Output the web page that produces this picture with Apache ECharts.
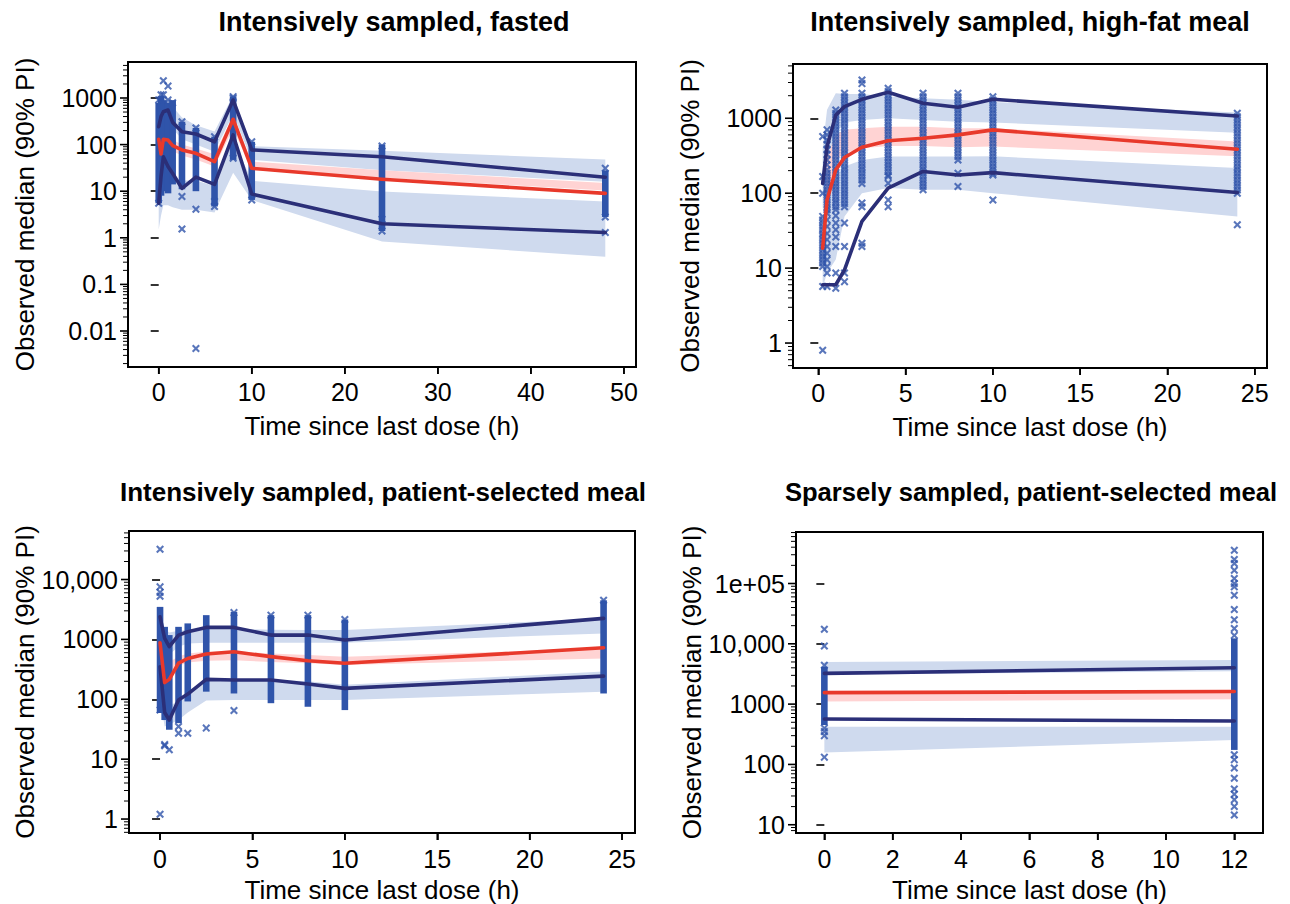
<!DOCTYPE html>
<html><head><meta charset="utf-8">
<script src="https://cdn.jsdelivr.net/npm/echarts@6/dist/echarts.min.js"></script>
<style>html,body{margin:0;padding:0;background:#fff}#c{width:1290px;height:904px}</style>
</head><body><div id="c"></div>
<script>
// ================= DATA =================
// Panel 1: Intensively sampled, fasted
const p1Time   = [0, 0.25, 0.5, 1, 1.5, 2.5, 4, 6, 8, 10, 24, 48];
const p1Upper  = [242, 400, 508, 552, 300, 189, 169, 115, 905, 77, 55, 20];
const p1Median = [130, 63, 130, 125, 95, 77, 65, 43, 350, 31, 18, 9];
const p1Lower  = [5.5, 21, 55, 34, 24, 11.5, 20, 14, 161, 8.7, 2.0, 1.3];
const p1UpLo   = [150, 250, 330, 330, 220, 130, 100, 70, 450, 47, 28, 16];
const p1UpHi   = [550, 900, 1100, 1000, 650, 380, 260, 190, 1150, 93, 74, 48];
const p1MedLo  = [80, 70, 95, 90, 72, 58, 48, 34, 220, 28.5, 19.5, 10.3];
const p1MedHi  = [160, 150, 170, 155, 125, 100, 82, 62, 420, 43, 28, 15];
const p1LowLo  = [1.5, 3, 5, 5, 4.5, 4, 4, 3.5, 25, 6.5, 0.83, 0.39];
const p1LowHi  = [9, 18, 30, 25, 20, 17, 17, 13, 130, 16.8, 9.8, 6];
const p1Cols   = [[0, 5.5, 780], [0.25, 8, 1100], [0.5, 10, 900], [1, 9, 800], [1.5, 14, 900], [2.5, 11, 310], [4, 10, 227], [6, 4.7, 148], [8, 47, 1070], [10, 6.5, 115], [24, 1.4, 100], [48, 2.8, 28]];
const p1Pts    = [[0, 910], [0, 5.5], [0.25, 1170], [0.5, 2350], [0.5, 1170], [1, 1800], [1, 910], [1.5, 790], [2.5, 310], [2.5, 7.7], [2.5, 1.55], [4, 227], [4, 4.1], [4, 0.0042], [6, 148], [6, 6.0], [6, 4.7], [8, 1070], [8, 985], [8, 51], [10, 115], [10, 6.5], [24, 93], [24, 2.5], [24, 1.4], [48, 31], [48, 2.8], [48, 1.3]];
const p1XTicks = [0, 10, 20, 30, 40, 50];
const p1YTicks = [0.01, 0.1, 1, 10, 100, 1000];
const p1YLabels = ['0.01', '0.1', '1', '10', '100', '1000'];

// Panel 2: Intensively sampled, high-fat meal
const p2Time   = [0.25, 0.5, 1, 1.5, 2.5, 4, 6, 8, 10, 24];
const p2Upper  = [135, 420, 1100, 1430, 1790, 2220, 1585, 1400, 1790, 1070];
const p2Median = [18.5, 81, 205, 300, 410, 500, 540, 600, 700, 386];
const p2Lower  = [6.0, 6.0, 6.0, 9.5, 42, 117, 195, 175, 188, 102];
const p2UpLo   = [60, 220, 630, 880, 950, 1000, 950, 900, 880, 640];
const p2UpHi   = [400, 1300, 2150, 2100, 2100, 1950, 1850, 1760, 1650, 1190];
const p2MedLo  = [12, 81, 278, 341, 398, 427, 427, 410, 420, 310];
const p2MedHi  = [40, 310, 600, 700, 735, 773, 773, 735, 735, 490];
const p2LowLo  = [5.5, 8.6, 13, 49, 100, 117, 111, 111, 100, 49];
const p2LowHi  = [24, 100, 167, 227, 278, 308, 308, 308, 310, 216];
const p2Cols   = [];
const p2ObsTimes  = [0.25, 0.5, 1, 1.5, 2.5, 4, 6, 8, 10, 24];
const p2ObsValues = [
  [570, 167, 100, 49, 44, 40, 36, 32.5, 29, 26.5, 24, 21.5, 19.4, 17.5, 15.8, 14.3, 12.9, 11.7, 10.5, 5.7, 0.8],
  [700, 600, 514, 450, 378, 330, 278, 240, 205, 185, 167, 150, 136, 123, 110, 100, 90, 81, 73, 66, 60, 54, 44, 36, 29, 24, 19.4, 15.8, 12.9, 10.5, 8.6, 5.7],
  [1290, 1160, 1050, 950, 858, 775, 700, 630, 570, 515, 465, 420, 378, 340, 308, 278, 250, 226, 205, 185, 167, 150, 136, 123, 110, 100, 90, 81, 74, 66, 60, 50, 40, 32.5, 26, 19.4, 8.6, 5.4],
  [2150, 1940, 1750, 1580, 1430, 1290, 1165, 1050, 950, 858, 773, 700, 630, 570, 514, 465, 418, 378, 341, 308, 278, 250, 226, 205, 185, 167, 150, 136, 123, 110, 100, 90, 81, 73, 66, 40, 19.4, 8.6, 6.6],
  [3240, 2900, 2150, 1940, 1750, 1580, 1430, 1290, 1165, 1050, 950, 858, 773, 700, 630, 570, 514, 465, 418, 378, 341, 308, 278, 250, 226, 205, 185, 167, 150, 135, 74, 66, 21.5, 19.4],
  [2520, 2270, 2050, 1850, 1670, 1510, 1360, 1230, 1110, 1000, 900, 815, 735, 665, 600, 540, 488, 440, 397, 358, 323, 292, 263, 238, 215, 194, 175, 167, 136, 81, 66],
  [2150, 1940, 1750, 1580, 1430, 1290, 1165, 1050, 950, 858, 773, 700, 630, 570, 514, 465, 418, 378, 341, 308, 278, 250, 226, 205, 185, 167, 150, 136, 123, 111],
  [2150, 1940, 1750, 1580, 1430, 1290, 1165, 1050, 950, 858, 773, 700, 630, 570, 514, 465, 418, 378, 341, 308, 278, 185, 123],
  [1940, 1750, 1585, 1430, 1290, 1165, 1050, 950, 858, 773, 700, 630, 570, 514, 465, 418, 378, 341, 308, 278, 250, 226, 205, 185, 175, 81],
  [1165, 1050, 950, 858, 773, 700, 630, 570, 514, 465, 418, 378, 341, 308, 278, 250, 226, 205, 185, 167, 150, 136, 123, 110, 100, 38]
];
const p2Pts    = p2ObsTimes.flatMap((t, i) => p2ObsValues[i].map(v => [t, v]));
const p2XTicks = [0, 5, 10, 15, 20, 25];
const p2YTicks = [1, 10, 100, 1000];
const p2YLabels = ['1', '10', '100', '1000'];

// Panel 3: Intensively sampled, patient-selected meal
const p3Time   = [0, 0.25, 0.5, 1, 1.5, 2.5, 4, 6, 8, 10, 24];
const p3Upper  = [2380, 1040, 755, 1180, 1340, 1585, 1585, 1180, 1180, 975, 2240];
const p3Median = [876, 190, 215, 400, 480, 570, 620, 515, 440, 400, 725];
const p3Lower  = [350, 60, 45, 97, 122, 215, 210, 210, 180, 152, 244];
const p3UpLo   = [900, 500, 560, 750, 850, 880, 880, 880, 880, 880, 1260];
const p3UpHi   = [3000, 1500, 1300, 1400, 1450, 1520, 1520, 1450, 1430, 1430, 2240];
const p3MedLo  = [450, 220, 260, 360, 410, 440, 450, 420, 400, 375, 480];
const p3MedHi  = [900, 380, 420, 520, 580, 620, 640, 580, 550, 515, 700];
const p3LowLo  = [100, 35, 38, 45, 60, 95, 97, 97, 97, 97, 134];
const p3LowHi  = [400, 75, 75, 97, 130, 212, 212, 212, 200, 175, 290];
const p3Cols   = [[0, 59, 3490], [0.25, 45, 1620], [0.5, 31, 1180], [1, 40, 1620], [1.5, 92, 1850], [2.5, 134, 2540], [4, 125, 2880], [6, 86, 2540], [8, 75, 2540], [10, 66, 2150], [24, 125, 4500]];
const p3Pts    = [[0, 32000], [0, 7540], [0, 6100], [0, 5270], [0, 66], [0, 1.2], [0.25, 16.7], [0.25, 17.5], [0.5, 14.4], [1, 35], [1, 27], [1.5, 27], [2.5, 33], [4, 2800], [4, 65], [6, 2540], [8, 2540], [10, 2150], [24, 4500]];
const p3XTicks = [0, 5, 10, 15, 20, 25];
const p3YTicks = [1, 10, 100, 1000, 10000];
const p3YLabels = ['1', '10', '100', '1000', '10,000'];

// Panel 4: Sparsely sampled, patient-selected meal
const p4Time   = [0, 12];
const p4Upper  = [3230, 4000];
const p4Median = [1550, 1620];
const p4Lower  = [565, 525];
const p4UpLo   = [3100, 3500];
const p4UpHi   = [5000, 5400];
const p4MedLo  = [1100, 1200];
const p4MedHi  = [1510, 1650];
const p4LowLo  = [157, 254];
const p4LowHi  = [423, 423];
const p4Cols   = [[0, 450, 4150], [12, 174, 12300]];
const p4Pts    = [[0, 17400], [0, 9200], [0, 4400], [0, 400], [0, 350], [0, 300], [0, 132], [12, 355000], [12, 250000], [12, 215000], [12, 166000], [12, 121000], [12, 100000], [12, 88000], [12, 64000], [12, 37000], [12, 25000], [12, 18000], [12, 13800], [12, 145], [12, 120], [12, 87], [12, 59], [12, 39], [12, 32], [12, 26], [12, 20], [12, 14.5]];
const p4XTicks = [0, 2, 4, 6, 8, 10, 12];
const p4YTicks = [10, 100, 1000, 10000, 100000];
const p4YLabels = ['10', '100', '1000', '10,000', '1e+05'];

const titles = ['Intensively sampled, fasted', 'Intensively sampled, high-fat meal', 'Intensively sampled, patient-selected meal', 'Sparsely sampled, patient-selected meal'];
const xName = 'Time since last dose (h)';
const yName = 'Observed median (90% PI)';

// ================= LAYOUT / STYLE =================
const FONT = "'Liberation Sans', Arial, Helvetica, sans-serif";
const BLUE_PT = '#2f54aa', NAVY = '#2b2f78', RED = '#e8392b';
const BAND_BLUE = '#cfdaee', BAND_PINK = '#ffd3d3';
const XSYM = 'path://M0,2.2 L2.2,0 L6,3.8 L9.8,0 L12,2.2 L8.2,6 L12,9.8 L9.8,12 L6,8.2 L2.2,12 L0,9.8 L3.8,6 Z';

const panels = [
  {grid: {left: 128, top: 62, width: 508, height: 305}, x: [-3.3, 51.3], y: [Math.pow(10, -2.7725), Math.pow(10, 3.7725)],
   t: p1Time, up: p1Upper, med: p1Median, low: p1Lower, upLo: p1UpLo, upHi: p1UpHi, medLo: p1MedLo, medHi: p1MedHi, lowLo: p1LowLo, lowHi: p1LowHi,
   cols: p1Cols, pts: p1Pts, xt: p1XTicks, yt: p1YTicks, yl: p1YLabels, title: [394, 22], titleSize: 27},
  {grid: {left: 793, top: 64, width: 474, height: 304}, x: [-1.45, 25.7], y: [Math.pow(10, -0.333), Math.pow(10, 3.724)],
   t: p2Time, up: p2Upper, med: p2Median, low: p2Lower, upLo: p2UpLo, upHi: p2UpHi, medLo: p2MedLo, medHi: p2MedHi, lowLo: p2LowLo, lowHi: p2LowHi,
   cols: p2Cols, pts: p2Pts, xt: p2XTicks, yt: p2YTicks, yl: p2YLabels, title: [1030, 22], titleSize: 27},
  {grid: {left: 129, top: 531, width: 506, height: 302}, x: [-1.68, 25.7], y: [Math.pow(10, -0.233), Math.pow(10, 4.81)],
   t: p3Time, up: p3Upper, med: p3Median, low: p3Lower, upLo: p3UpLo, upHi: p3UpHi, medLo: p3MedLo, medHi: p3MedHi, lowLo: p3LowLo, lowHi: p3LowHi,
   cols: p3Cols, pts: p3Pts, xt: p3XTicks, yt: p3YTicks, yl: p3YLabels, title: [383, 492], titleSize: 26},
  {grid: {left: 796, top: 532, width: 467, height: 301}, x: [-0.83, 12.84], y: [Math.pow(10, 0.863), Math.pow(10, 5.854)],
   t: p4Time, up: p4Upper, med: p4Median, low: p4Lower, upLo: p4UpLo, upHi: p4UpHi, medLo: p4MedLo, medHi: p4MedHi, lowLo: p4LowLo, lowHi: p4LowHi,
   cols: p4Cols, pts: p4Pts, xt: p4XTicks, yt: p4YTicks, yl: p4YLabels, title: [1031, 492], titleSize: 25.6}
];

function minorTicks(min, max) {
  const out = [];
  for (let e = Math.floor(Math.log10(min)) - 1; e <= Math.ceil(Math.log10(max)); e++) {
    for (let m = 2; m <= 9; m++) {
      const v = m * Math.pow(10, e);
      if (v >= min && v <= max) out.push(v);
    }
  }
  return out;
}

const grids = [], xAxes = [], yAxes = [], series = [], graphics = [];

function bandSeries(pi, t, lo, hi, color) {
  return {
    type: 'custom', xAxisIndex: pi, yAxisIndex: pi, silent: true, z: 1, animation: false,
    data: t.map((x, i) => [x, lo[i], hi[i]]), encode: {x: 0, y: [1, 2]},
    renderItem: (params, api) => {
      if (params.dataIndex !== 0) return;
      const top = t.map((x, i) => api.coord([x, hi[i]]));
      const bot = t.map((x, i) => api.coord([x, lo[i]])).reverse();
      return {type: 'polygon', shape: {points: top.concat(bot)}, style: {fill: color}};
    }
  };
}
function lineSeries(pi, t, v, color, z) {
  return {
    type: 'line', xAxisIndex: pi, yAxisIndex: pi, data: t.map((x, i) => [x, v[i]]),
    symbol: 'none', showSymbol: false, silent: true, z, animation: false,
    lineStyle: {color, width: 3.6, join: 'round', cap: 'round'}, itemStyle: {color}
  };
}
function colSeries(pi, cols) {
  return {
    type: 'custom', xAxisIndex: pi, yAxisIndex: pi, silent: true, z: 2, animation: false,
    data: cols, encode: {x: 0, y: [1, 2]},
    renderItem: (params, api) => {
      const a = api.coord([api.value(0), api.value(1)]);
      const b = api.coord([api.value(0), api.value(2)]);
      return {type: 'rect', shape: {x: a[0] - 3.3, y: b[1], width: 6.6, height: a[1] - b[1]}, style: {fill: BLUE_PT}};
    }
  };
}
function pointSeries(pi, pts) {
  return {type: 'scatter', xAxisIndex: pi, yAxisIndex: pi, data: pts, symbol: XSYM, symbolSize: 8,
    itemStyle: {color: BLUE_PT}, z: 2, silent: true, animation: false};
}
// minor (and backup major) tick marks on the same log10 / linear mapping as the axes
function tickRect(x, y, w, h) {
  return {type: 'rect', shape: {x, y, width: w, height: h}, style: {fill: '#000'}};
}
function yPix(p, v) {
  const l0 = Math.log10(p.y[0]), l1 = Math.log10(p.y[1]);
  return p.grid.top + p.grid.height * (l1 - Math.log10(v)) / (l1 - l0);
}
function xPix(p, v) {
  return p.grid.left + p.grid.width * (v - p.x[0]) / (p.x[1] - p.x[0]);
}

panels.forEach((p, i) => {
  grids.push(Object.assign({show: true, borderColor: '#000', borderWidth: 2, backgroundColor: 'transparent'}, p.grid));
  const bottomRow = i >= 2;
  xAxes.push({
    type: 'value', gridIndex: i, min: p.x[0], max: p.x[1],
    axisLine: {show: false}, splitLine: {show: false},
    axisTick: {show: true, customValues: p.xt, length: 7, lineStyle: {color: '#000', width: 1.6}},
    axisLabel: {customValues: p.xt, margin: bottomRow ? 13 : 12, fontSize: 25, color: '#000', fontFamily: FONT},
    name: xName, nameLocation: 'middle', nameGap: bottomRow ? 44 : 46,
    nameTextStyle: {fontSize: 26, color: '#000', fontFamily: FONT}
  });
  const yt = p.yt, yl = p.yl;
  yAxes.push({
    type: 'log', gridIndex: i, position: 'left', min: p.y[0], max: p.y[1],
    axisLine: {show: false}, splitLine: {show: false},
    axisTick: {show: true, customValues: yt, length: 8, lineStyle: {color: '#000', width: 1.6}},
    axisLabel: {customValues: yt, margin: 11, fontSize: 25, color: '#000', fontFamily: FONT,
      formatter: (v) => { const k = yt.findIndex(tv => Math.abs(Math.log10(tv) - Math.log10(v)) < 1e-6); return k >= 0 ? yl[k] : ''; }},
    name: yName, nameLocation: 'middle', nameGap: 90,
    nameTextStyle: {fontSize: 26, color: '#000', fontFamily: FONT}
  });
  series.push(bandSeries(i, p.t, p.upLo, p.upHi, BAND_BLUE));
  series.push(bandSeries(i, p.t, p.lowLo, p.lowHi, BAND_BLUE));
  series.push(bandSeries(i, p.t, p.medLo, p.medHi, BAND_PINK));
  if (p.cols.length) series.push(colSeries(i, p.cols));
  series.push(pointSeries(i, p.pts));
  series.push(lineSeries(i, p.t, p.up, NAVY, 4));
  series.push(lineSeries(i, p.t, p.low, NAVY, 4));
  series.push(lineSeries(i, p.t, p.med, RED, 5));
  graphics.push({type: 'text', x: p.title[0], y: p.title[1],
    style: {text: titles[i], font: 'bold ' + p.titleSize + 'px ' + FONT, fill: '#000', align: 'center', verticalAlign: 'middle', textAlign: 'center', textVerticalAlign: 'middle'}});

  const left = p.grid.left, bottom = p.grid.top + p.grid.height;
  p.yt.forEach(v => graphics.push(tickRect(left - 8, yPix(p, v) - 0.8, 8, 1.6)));
  minorTicks(p.y[0], p.y[1]).forEach(v => graphics.push(tickRect(left - 5, yPix(p, v) - 0.5, 5, 1)));
  p.xt.forEach(v => graphics.push(tickRect(xPix(p, v) - 0.8, bottom, 1.6, 7)));
});

const chart = echarts.init(document.getElementById('c'), null, {renderer: 'svg', width: 1290, height: 904});
chart.setOption({
  backgroundColor: '#fff', animation: false,
  grid: grids, xAxis: xAxes, yAxis: yAxes, series, graphic: graphics
});
</script></body></html>
